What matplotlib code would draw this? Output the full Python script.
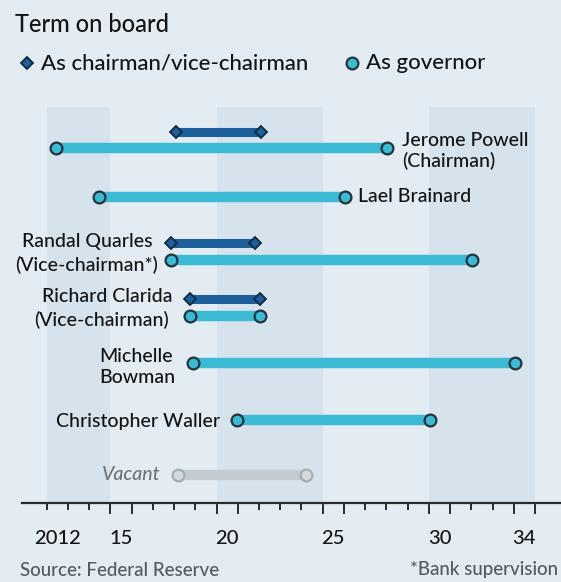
import matplotlib
matplotlib.use("Agg")
import matplotlib.pyplot as plt
from matplotlib.lines import Line2D

plt.rcParams['font.family'] = ['Lato', 'DejaVu Sans']
plt.rcParams['font.weight'] = 'medium'

# ---- data: terms on the Federal Reserve board (decimal years) ----
governors = ["Jerome Powell", "Lael Brainard", "Randal Quarles",
             "Richard Clarida", "Michelle Bowman", "Christopher Waller"]
gov_start = [2012.42, 2014.45, 2017.85, 2018.74, 2018.88, 2020.95]
gov_end = [2028.05, 2026.05, 2032.05, 2022.05, 2034.05, 2030.05]

chairs = ["Jerome Powell", "Randal Quarles", "Richard Clarida"]
chair_start = [2018.10, 2017.85, 2018.74]
chair_end = [2022.10, 2021.80, 2022.05]

vacant_start = 2018.18
vacant_end = 2024.2

tick_years = [2012, 2015, 2020, 2025, 2030, 2034]
tick_labels = ["2012", "15", "20", "25", "30", "34"]
band_spans = [(2012, 2015), (2020, 2025), (2030, 2035)]

# ---- style ----
BG = "#e2ecf2"
BAND = "#d6e3ec"
GOV = "#3cb9d3"
GOV_EDGE = "#24343d"
CHAIR = "#1c5f9b"
CHAIR_EDGE = "#10283f"
VAC = "#c5ccd1"
VAC_EDGE = "#a6aeb3"
TXT = "#141414"
AXIS = "#2b2b2b"

W, H = 561, 582
fig = plt.figure(figsize=(W / 100, H / 100), dpi=100, facecolor=BG)

ax_left, ax_bottom_px, ax_top_px = 22, 503, 107
ax_h_px = ax_bottom_px - ax_top_px
ax = fig.add_axes([ax_left / W, 1 - ax_bottom_px / H, 1 - ax_left / W,
                   ax_h_px / H])
ax.set_facecolor(BG)
ax.set_xlim(2010.837, 2036.225)
ax.set_ylim(0, ax_h_px / 10)

for a, b in band_spans:
    ax.axvspan(a, b, color=BAND, lw=0, zorder=0)

# row layout (vertical positions)
gov_y = {"Jerome Powell": 35.5, "Lael Brainard": 30.6, "Randal Quarles": 24.3,
         "Richard Clarida": 18.7, "Michelle Bowman": 14.0,
         "Christopher Waller": 8.3}
chair_y = {"Jerome Powell": 37.1, "Randal Quarles": 26.0,
           "Richard Clarida": 20.4}
vac_y = 2.8


def term(x0, x1, y, color, lw, marker, mfc, mec, ms, mew):
    ax.plot([x0, x1], [y, y], color=color, lw=lw, solid_capstyle='butt',
            zorder=2)
    ax.plot([x0, x1], [y, y], ls='none', marker=marker, mfc=mfc, mec=mec,
            ms=ms, mew=mew, zorder=3)


for name, s, e in zip(governors, gov_start, gov_end):
    term(s, e, gov_y[name], GOV, 7.5, 'o', GOV, GOV_EDGE, 8.5, 1.6)
for name, s, e in zip(chairs, chair_start, chair_end):
    term(s, e, chair_y[name], CHAIR, 6.5, 'D', CHAIR, CHAIR_EDGE, 6.5, 1.3)
term(vacant_start, vacant_end, vac_y, VAC, 7.5, 'o', "#d3d9dd", VAC_EDGE,
     8.5, 1.6)

# name labels
fs = 14
ax.text(gov_end[0] + 0.7, 36.2, "Jerome Powell", fontsize=fs, color=TXT,
        va='center', ha='left')
ax.text(gov_end[0] + 0.7, 34.2, "(Chairman)", fontsize=fs, color=TXT,
        va='center', ha='left')
ax.text(gov_end[1] + 0.6, 30.6, "Lael Brainard", fontsize=fs, color=TXT,
        va='center', ha='left')
ax.text(gov_start[2] - 0.85, 26.1, "Randal Quarles", fontsize=fs, color=TXT,
        va='center', ha='right')
ax.text(gov_start[2] - 0.6, 23.8, "(Vice-chairman*)", fontsize=fs, color=TXT,
        va='center', ha='right')
ax.text(gov_start[3] - 0.8, 20.6, "Richard Clarida", fontsize=fs, color=TXT,
        va='center', ha='right')
ax.text(gov_start[3] - 1.0, 18.3, "(Vice-chairman)", fontsize=fs, color=TXT,
        va='center', ha='right')
ax.text(gov_start[4] - 0.8, 13.6, "Michelle\nBowman", fontsize=fs, color=TXT,
        va='center', ha='right', multialignment='left', linespacing=1.25)
ax.text(gov_start[5] - 0.8, 8.2, "Christopher Waller", fontsize=fs, color=TXT,
        va='center', ha='right')
ax.text(vacant_start - 0.8, 2.8, "Vacant", fontsize=fs, color="#6d7479",
        style='italic', va='center', ha='right')

# axis line and year ticks (longer ticks bracket the labelled years)
for s in ['top', 'right', 'left']:
    ax.spines[s].set_visible(False)
ax.spines['bottom'].set_color(AXIS)
ax.spines['bottom'].set_linewidth(1.6)
ax.set_yticks([])
ax.set_xticks([])
long_ticks = [2015, 2016, 2020, 2021, 2025, 2026, 2030, 2031, 2034, 2035]
short_ticks = [y for y in range(2012, 2036) if y not in long_ticks]
xax = ax.get_xaxis_transform()
ax.vlines(long_ticks, -11 / ax_h_px, 0, transform=xax, color=AXIS, lw=1.4,
          clip_on=False)
ax.vlines(short_ticks, -6.5 / ax_h_px, 0, transform=xax, color=AXIS, lw=1.4,
          clip_on=False)
for yr, lab in zip(tick_years, tick_labels):
    ax.text(yr + 0.5, -3.6, lab, fontsize=14.5, color=TXT, ha='center',
            va='center', clip_on=False)

# title, legend, footnotes
fig.text(15 / W, 1 - 24 / H, "Term on board", fontsize=17, color=TXT,
         ha='left', va='center')
fig.add_artist(Line2D([27 / W], [1 - 63 / H], marker='D', ms=6.5, mfc=CHAIR,
                      mec=CHAIR_EDGE, mew=1.3, transform=fig.transFigure))
fig.text(41 / W, 1 - 63 / H, "As chairman/vice-chairman", fontsize=16,
         color=TXT, ha='left', va='center')
fig.add_artist(Line2D([352 / W], [1 - 63 / H], marker='o', ms=8.5, mfc=GOV,
                      mec=GOV_EDGE, mew=1.6, transform=fig.transFigure))
fig.text(366 / W, 1 - 63 / H, "As governor", fontsize=16, color=TXT,
         ha='left', va='center')
fig.text(20 / W, 1 - 570 / H, "Source: Federal Reserve", fontsize=13.5,
         color="#555a5e", ha='left', va='center')
fig.text(558 / W, 1 - 570 / H, "*Bank supervision", fontsize=13.5,
         color="#555a5e", ha='right', va='center')

fig.savefig("out.png", dpi=100, facecolor=BG)
